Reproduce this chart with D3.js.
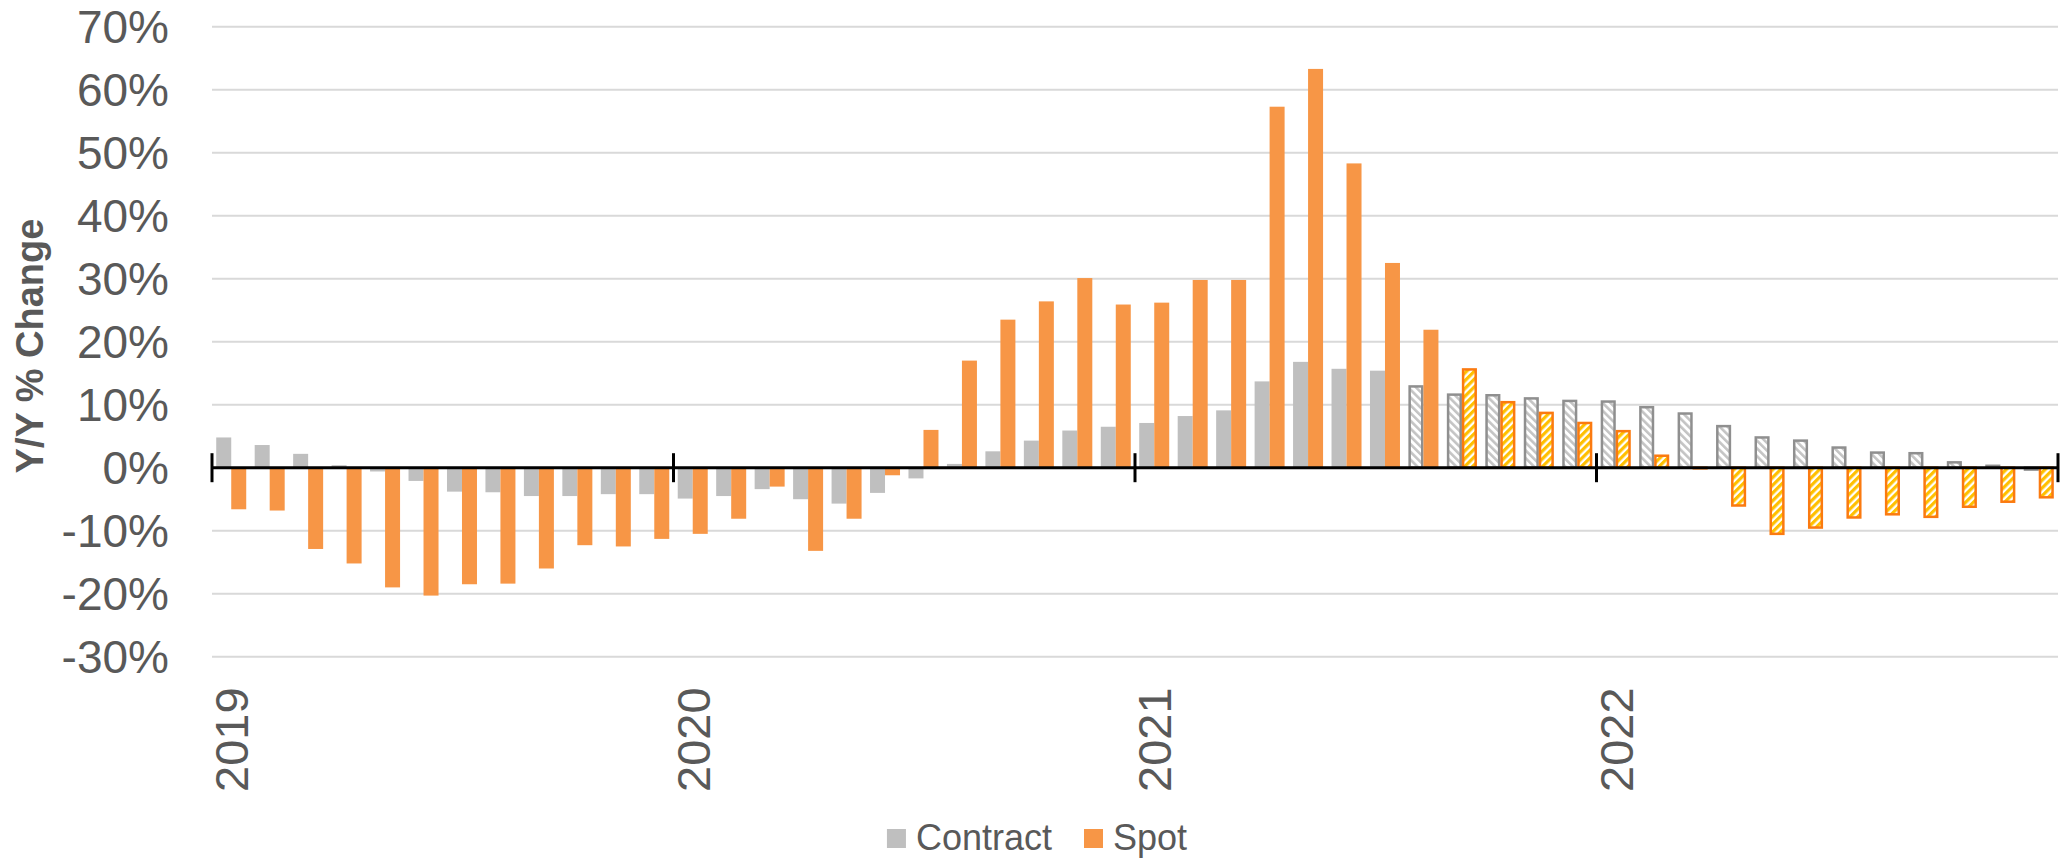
<!DOCTYPE html>
<html>
<head>
<meta charset="utf-8">
<script src="https://cdn.jsdelivr.net/npm/d3@7"></script>
<style>
  body { margin: 0; background: #fff; }
  svg text { font-family: "Liberation Sans", Arial, sans-serif; fill: #595959; }
</style>
</head>
<body>
<svg id="chart" width="2064" height="859"></svg>
<script>
const months = [
  "2019-01","2019-02","2019-03","2019-04","2019-05","2019-06","2019-07","2019-08","2019-09","2019-10","2019-11","2019-12",
  "2020-01","2020-02","2020-03","2020-04","2020-05","2020-06","2020-07","2020-08","2020-09","2020-10","2020-11","2020-12",
  "2021-01","2021-02","2021-03","2021-04","2021-05","2021-06","2021-07","2021-08","2021-09","2021-10","2021-11","2021-12",
  "2022-01","2022-02","2022-03","2022-04","2022-05","2022-06","2022-07","2022-08","2022-09","2022-10","2022-11","2022-12"
];
const yearLabels = ["2019", "2020", "2021", "2022"];

// Y/Y % change
const contract = [4.8,3.6,2.2,0.4,-0.6,-2.1,-3.8,-3.9,-4.5,-4.5,-4.2,-4.2,
  -4.9,-4.5,-3.4,-5.0,-5.7,-4.0,-1.7,0.6,2.6,4.3,5.9,6.5,
  7.1,8.2,9.1,13.7,16.8,15.7,15.4,12.9,11.6,11.5,11.0,10.6,
  10.5,9.6,8.6,6.6,4.8,4.3,3.2,2.4,2.3,0.85,0.3,-0.3];
const spot = [-6.6,-6.8,-12.9,-15.2,-19.0,-20.3,-18.5,-18.4,-16.0,-12.3,-12.5,-11.3,
  -10.5,-8.1,-3.0,-13.2,-8.1,-1.2,6.0,17.0,23.5,26.4,30.1,25.9,
  26.2,29.8,29.8,57.3,63.3,48.3,32.5,21.9,15.6,10.4,8.7,7.1,
  5.8,1.9,-0.1,-6.0,-10.5,-9.5,-7.9,-7.4,-7.8,-6.2,-5.4,-4.7];
// first forecast month of each series
const contractForecastFrom = "2021-08";
const spotForecastFrom = "2021-09";

const yTicks = [-30,-20,-10,0,10,20,30,40,50,60,70];

const svg = d3.select("#chart");
const plotLeft = 212, plotRight = 2058, plotTop = 26.7, plotBottom = 656.7;

const x = d3.scaleBand().domain(months).range([plotLeft, plotRight]).paddingInner(0.22).paddingOuter(0.11);
const xSub = d3.scaleBand().domain(["contract", "spot"]).range([0, x.bandwidth()]);
const xLin = d3.scaleLinear().domain([0, months.length]).range([plotLeft, plotRight]);
const y = d3.scaleLinear().domain([-30, 70]).range([plotBottom, plotTop]);

// hatch patterns
const defs = svg.append("defs");
const pc = defs.append("pattern").attr("id", "hatchContract")
  .attr("patternUnits", "userSpaceOnUse").attr("width", 5.5).attr("height", 5.5)
  .attr("patternTransform", "rotate(-45)");
pc.append("rect").attr("width", 5.5).attr("height", 5.5).attr("fill", "#fff");
pc.append("rect").attr("width", 2.6).attr("height", 5.5).attr("fill", "#c4c4c4");

const ps = defs.append("pattern").attr("id", "hatchSpot")
  .attr("patternUnits", "userSpaceOnUse").attr("width", 5.5).attr("height", 5.5)
  .attr("patternTransform", "rotate(45)");
ps.append("rect").attr("width", 5.5).attr("height", 5.5).attr("fill", "#fff");
ps.append("rect").attr("width", 3.2).attr("height", 5.5).attr("fill", "#ffc000");

// gridlines
svg.append("g").selectAll("line").data(yTicks).enter().append("line")
  .attr("x1", plotLeft).attr("x2", plotRight)
  .attr("y1", d => y(d)).attr("y2", d => y(d))
  .attr("stroke", "#d9d9d9").attr("stroke-width", 2);

// y tick labels
svg.append("g").selectAll("text").data(yTicks).enter().append("text")
  .attr("x", 169).attr("y", d => y(d) + 16.5)
  .attr("text-anchor", "end").style("font-size", "46px")
  .text(d => d + "%");

// y title
svg.append("text")
  .attr("transform", "translate(43,346) rotate(-90)")
  .attr("text-anchor", "middle")
  .style("font-size", "38px").style("font-weight", "bold")
  .text("Y/Y % Change");

const cIdx = months.indexOf(contractForecastFrom);
const sIdx = months.indexOf(spotForecastFrom);

function barY(v) { return v >= 0 ? y(v) : y(0); }
function barH(v) { return Math.abs(y(v) - y(0)); }

const bars = svg.append("g");
bars.selectAll(".c").data(contract).enter().append("rect")
  .attr("class", "c")
  .attr("x", (d, i) => x(months[i]) + xSub("contract") + (i >= cIdx ? 1.2 : 0))
  .attr("width", (d, i) => xSub.bandwidth() - (i >= cIdx ? 2.4 : 0))
  .attr("y", d => barY(d))
  .attr("height", d => barH(d))
  .attr("fill", (d, i) => i >= cIdx ? "url(#hatchContract)" : "#bfbfbf")
  .attr("stroke", (d, i) => i >= cIdx ? "#8f8f8f" : "none")
  .attr("stroke-width", 2.5);

bars.selectAll(".s").data(spot).enter().append("rect")
  .attr("class", "s")
  .attr("x", (d, i) => x(months[i]) + xSub("spot") + (i >= sIdx ? 1.2 : 0))
  .attr("width", (d, i) => xSub.bandwidth() - (i >= sIdx ? 2.4 : 0))
  .attr("y", d => barY(d))
  .attr("height", d => barH(d))
  .attr("fill", (d, i) => i >= sIdx ? "url(#hatchSpot)" : "#f79646")
  .attr("stroke", (d, i) => i >= sIdx ? "#fb7a10" : "none")
  .attr("stroke-width", 2.5);

// zero axis with year ticks
svg.append("line").attr("x1", plotLeft).attr("x2", plotRight)
  .attr("y1", y(0)).attr("y2", y(0))
  .attr("stroke", "#000").attr("stroke-width", 3);

const tickIdx = d3.range(0, months.length + 1, 12);
svg.append("g").selectAll("line").data(tickIdx).enter().append("line")
  .attr("x1", d => xLin(d)).attr("x2", d => xLin(d))
  .attr("y1", y(0) - 14.5).attr("y2", y(0) + 14.5)
  .attr("stroke", "#000").attr("stroke-width", 3);

// year labels, rotated
svg.append("g").selectAll("text").data(yearLabels).enter().append("text")
  .attr("transform", d => {
    const cx = x(d + "-01") + x.bandwidth() / 2;
    return "translate(" + (cx + 17) + ",792) rotate(-90)";
  })
  .attr("text-anchor", "start").style("font-size", "47px")
  .text(d => d);

// legend
const legendItems = [["Contract", "#bfbfbf"], ["Spot", "#f79646"]];
const lg = svg.append("g");
let lx = 0;
legendItems.forEach(function (it, k) {
  const g = lg.append("g").attr("transform", "translate(" + lx + ",0)");
  g.append("rect").attr("x", 0).attr("y", 829).attr("width", 19).attr("height", 19).attr("fill", it[1]);
  const t = g.append("text").attr("x", 29).attr("y", 850).style("font-size", "36px").text(it[0]);
  lx += 29 + t.node().getComputedTextLength() + 32;
});
const lw = lx - 32;
lg.attr("transform", "translate(" + (1037 - lw / 2) + ",0)");
</script>
</body>
</html>
